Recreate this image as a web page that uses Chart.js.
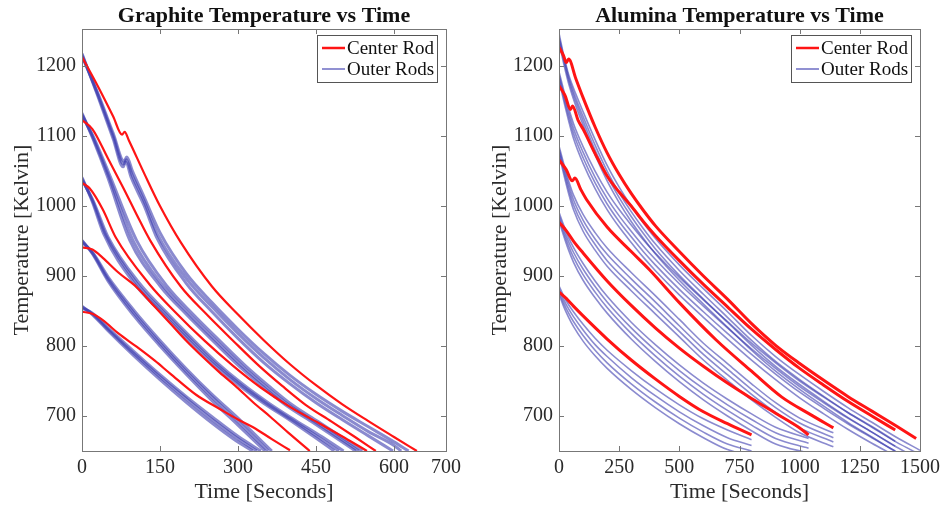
<!DOCTYPE html>
<html>
<head>
<meta charset="utf-8">
<script src="https://cdn.jsdelivr.net/npm/chart.js@4.4.0/dist/chart.umd.min.js"></script>
<style>
    body { margin: 0; background: #fff; width: 945px; height: 508px; overflow: hidden; position: relative; }
    canvas { position: absolute; top: 0; }
    #graphite { left: 0; }
    #alumina { left: 470px; }
</style>
</head>
<body>
<canvas id="graphite" width="470" height="508"></canvas>
<canvas id="alumina" width="475" height="508"></canvas>
<script>
// ---- Graphite: [time (s), temperature (K)] ----
const graphiteCenter1 = [[0,1213],[30,1172],[60,1128],[77,1102],[82,1106],[90,1094],[120,1046],[150,1000],[190,948],[250,885],[300,845],[350,808],[400,774],[450,744],[500,717],[550,693],[600,670],[644,650]];
const graphiteCenter2 = [[0,1123],[20,1110],[50,1068],[80,1025],[105,988],[131,951],[190,885],[240,845],[290,808],[340,772],[385,743],[430,716],[480,692],[525,670],[565,650]];
const graphiteCenter3 = [[0,1033],[15,1025],[40,995],[65,955],[130,888],[180,848],[235,808],[290,772],[345,740],[400,713],[455,690],[505,669],[548,650]];
const graphiteCenter4 = [[0,941],[20,938],[40,926],[70,905],[105,884],[140,856],[169,833],[200,808],[233,784],[265,762],[298,741],[330,719],[362,699],[400,674],[438,650]];
const graphiteCenter5 = [[0,849],[20,846],[40,837],[70,818],[105,799],[140,779],[169,761],[220,730],[265,710],[300,695],[329,684],[365,667],[400,651]];

const graphiteOuter1a = [[0,1218],[30,1158],[60,1096],[79,1056],[84,1063],[95,1040],[120,1000],[145,953],[200,890],[250,849],[300,811],[350,776],[400,746],[450,719],[500,695],[550,672],[598,650]];
const graphiteOuter1b = [[0,1216],[30,1160],[60,1100],[80,1060],[85,1066],[96,1045],[120,1006],[145,960],[200,897],[250,856],[300,818],[350,783],[400,752],[450,725],[500,701],[550,678],[600,658],[614,650]];
const graphiteOuter1c = [[0,1214],[30,1162],[60,1104],[81,1064],[86,1070],[97,1050],[120,1012],[150,962],[200,904],[250,862],[300,824],[350,789],[400,758],[450,731],[500,707],[550,685],[600,663],[628,650]];
const graphiteOuter2a = [[0,1133],[20,1098],[50,1040],[92,951],[151,885],[201,845],[251,808],[301,772],[346,743],[391,716],[441,692],[486,670],[526,650]];
const graphiteOuter2b = [[0,1131],[20,1100],[50,1045],[98,951],[157,885],[207,845],[257,808],[307,772],[352,743],[397,716],[447,692],[492,670],[532,650]];
const graphiteOuter2c = [[0,1129],[20,1102],[50,1050],[105,951],[164,885],[214,845],[264,808],[314,772],[359,743],[404,716],[454,692],[499,670],[539,650]];
const graphiteOuter3a = [[0,1041],[20,1006],[42,960],[100,890],[150,850],[200,812],[250,776],[300,745],[350,718],[400,694],[445,671],[485,650]];
const graphiteOuter3b = [[0,1039],[20,1008],[46,958],[105,890],[155,850],[205,812],[255,776],[305,745],[355,718],[405,694],[452,671],[494,650]];
const graphiteOuter3c = [[0,1037],[20,1010],[50,956],[110,890],[160,850],[210,812],[260,776],[310,745],[360,718],[410,694],[460,671],[503,650]];
const graphiteOuter4a = [[0,951],[20,932],[50,893],[100,843],[150,800],[200,760],[250,722],[300,687],[352,650]];
const graphiteOuter4b = [[0,950],[20,933],[50,896],[100,847],[150,804],[200,764],[250,727],[300,692],[358,650]];
const graphiteOuter4c = [[0,948],[20,934],[50,899],[100,851],[150,808],[200,768],[250,731],[300,697],[365,650]];
const graphiteOuter5a = [[0,857],[20,845],[50,822],[100,786],[150,752],[200,720],[250,690],[290,668],[328,650]];
const graphiteOuter5b = [[0,856],[20,846],[50,824],[100,789],[150,756],[200,725],[250,695],[295,670],[336,650]];
const graphiteOuter5c = [[0,854],[20,847],[50,826],[100,792],[150,759],[200,728],[250,699],[300,671],[344,650]];

const graphiteXTicks = [0, 150, 300, 450, 600, 700];

// ---- Alumina: centre rods as [time, temperature] ----
const aluminaCenter1 = [[0,1227],[20,1214],[30,1205],[40,1210],[70,1182],[100,1155],[150,1113],[200,1076],[250,1045],[300,1018],[350,994],[400,972],[500,935],[600,900],[700,867],[800,832],[900,801],[1000,775],[1100,751],[1200,728],[1300,707],[1400,686],[1484,668]];
const aluminaCenter2 = [[0,1172],[25,1158],[48,1138],[56,1143],[80,1122],[100,1110],[150,1075],[200,1043],[250,1020],[300,1000],[350,978],[400,958],[500,922],[600,888],[700,856],[800,824],[900,795],[1000,768],[1100,744],[1200,721],[1300,700],[1397,680]];
const aluminaCenter3 = [[0,1066],[30,1052],[55,1036],[66,1040],[90,1024],[115,1009],[200,970],[300,935],[376,909],[500,862],[652,809],[800,764],[926,727],[1040,703],[1140,683]];
const aluminaCenter4 = [[0,977],[30,965],[60,950],[100,933],[200,893],[300,858],[400,826],[500,797],[600,771],[700,747],[800,725],[900,704],[1000,683],[1037,673]];
const aluminaCenter5 = [[0,877],[30,868],[60,857],[100,843],[200,810],[300,780],[400,753],[500,728],[600,706],[700,689],[800,673]];

// ---- Alumina: outer rods, one time list per run ----
const aluminaOuterTime1 = [0,20,40,70,100,150,200,250,300,350,400,500,600,700,800,900,1000,1100,1200,1300,1400,1500];
const aluminaOuter1a = [1247,1215,1188,1160,1135,1095,1058,1027,1000,976,954,916,882,849,815,785,759,735,712,691,670,651];
const aluminaOuter1b = [1242,1212,1184,1154,1128,1087,1050,1019,992,968,946,908,874,841,808,778,752,728,705,684,663,645];
const aluminaOuter1c = [1238,1208,1180,1149,1122,1080,1043,1012,985,961,939,901,867,834,801,771,745,721,698,677,656,638];
const aluminaOuter1d = [1234,1203,1175,1143,1116,1073,1036,1005,978,954,932,894,860,827,794,764,738,714,691,670,649,632];

const aluminaOuterTime2 = [0,20,40,60,100,150,200,250,300,350,400,500,600,700,800,900,1000,1100,1200,1300,1397];
const aluminaOuter2a = [1192,1165,1140,1118,1085,1050,1020,995,973,952,933,898,866,835,804,776,750,727,705,685,664];
const aluminaOuter2b = [1188,1160,1134,1111,1077,1041,1011,986,964,943,924,889,857,826,796,768,742,719,697,677,657];
const aluminaOuter2c = [1184,1155,1128,1104,1069,1033,1003,978,956,935,916,881,849,818,788,760,734,711,689,669,650];
const aluminaOuter2d = [1180,1150,1122,1097,1061,1025,995,970,948,927,908,873,841,810,780,752,726,703,681,661,643];

const aluminaOuterTime3 = [0,20,40,60,100,150,200,300,400,500,600,700,800,900,1000,1140];
const aluminaOuter3a = [1086,1060,1036,1016,988,962,940,905,872,838,804,775,746,719,697,676];
const aluminaOuter3b = [1082,1055,1030,1009,980,953,931,896,863,829,796,767,738,712,690,669];
const aluminaOuter3c = [1078,1050,1024,1002,972,945,922,887,854,821,788,759,731,705,683,663];
const aluminaOuter3d = [1074,1045,1018,995,964,937,914,879,846,813,780,751,723,698,676,656];

const aluminaOuterTime4 = [0,20,40,60,100,150,200,300,400,500,600,700,800,900,1037];
const aluminaOuter4a = [991,972,955,941,918,893,871,834,802,773,747,724,703,684,668];
const aluminaOuter4b = [987,967,949,934,910,885,863,826,794,765,739,716,695,676,661];
const aluminaOuter4c = [983,962,943,927,902,877,855,818,786,757,731,708,687,668,654];
const aluminaOuter4d = [979,957,937,920,894,869,847,810,778,749,723,700,679,660,647];

const aluminaOuterTime5 = [0,20,40,60,100,150,200,300,400,500,600,700,800];
const aluminaOuter5a = [886,871,859,849,831,811,794,765,739,716,696,680,666];
const aluminaOuter5b = [882,866,853,842,823,802,785,755,729,706,686,669,658];
const aluminaOuter5c = [878,861,847,835,815,794,776,746,720,697,677,660,650];
const aluminaOuter5d = [874,856,841,828,807,786,768,738,712,689,669,652,643];

const aluminaXTicks = [0, 250, 500, 750, 1000, 1250, 1500];
const yTicks = [700, 800, 900, 1000, 1100, 1200];

const serif = '"Liberation Serif", "Times New Roman", serif';
const red = 'rgb(255,20,20)';
const blue = 'rgba(60,60,175,0.6)';

function fromPairs(list) {
    return list.map(p => ({x: p[0], y: p[1]}));
}

function fromGrid(times, temps) {
    return temps.map((v, i) => ({x: times[i], y: v}));
}

function centerSet(points, width) {
    return {data: points, borderColor: red, borderWidth: width, order: 0};
}

function outerSet(points, width) {
    return {data: points, borderColor: blue, borderWidth: width, order: 1};
}

// box, inward ticks on all four sides and the legend, the MATLAB way
const matlabBox = {
    id: 'matlabBox',
    afterDatasetsDraw(chart) {
        const ctx = chart.ctx;
        const a = chart.chartArea;
        const xs = chart.scales.x;
        const ys = chart.scales.y;
        ctx.save();
        ctx.strokeStyle = '#777';
        ctx.lineWidth = 1;
        ctx.beginPath();
        xs.ticks.forEach(t => {
            let px = Math.round(xs.getPixelForValue(t.value)) + 0.5;
            ctx.moveTo(px, a.bottom); ctx.lineTo(px, a.bottom - 5);
            ctx.moveTo(px, a.top); ctx.lineTo(px, a.top + 5);
        });
        ys.ticks.forEach(t => {
            let py = Math.round(ys.getPixelForValue(t.value)) + 0.5;
            ctx.moveTo(a.left, py); ctx.lineTo(a.left + 5, py);
            ctx.moveTo(a.right, py); ctx.lineTo(a.right - 5, py);
        });
        ctx.stroke();
        ctx.strokeRect(Math.round(a.left) + 0.5, Math.round(a.top) + 0.5, Math.round(a.right - a.left), Math.round(a.bottom - a.top));

        // legend
        const bw = 120, bh = 47;
        const bx = Math.round(a.right) - 9 - bw;
        const by = Math.round(a.top) + 6;
        ctx.fillStyle = '#fff';
        ctx.fillRect(bx, by, bw, bh);
        ctx.strokeStyle = '#555';
        ctx.strokeRect(bx + 0.5, by + 0.5, bw, bh);
        const rows = [['Center Rod', red, 2.5], ['Outer Rods', 'rgba(60,60,175,0.75)', 1.5]];
        ctx.font = '19px ' + serif;
        ctx.textBaseline = 'middle';
        rows.forEach((r, i) => {
            let ry = by + 13 + i * 21;
            ctx.strokeStyle = r[1];
            ctx.lineWidth = r[2];
            ctx.beginPath();
            ctx.moveTo(bx + 5, ry); ctx.lineTo(bx + 28, ry);
            ctx.stroke();
            ctx.fillStyle = '#111';
            ctx.fillText(r[0], bx + 30, ry + 1);
        });
        ctx.restore();
    }
};

function makeChart(id, title, datasets, xMax, xTicks, yWidth, yTitlePad, rightPad) {
    return new Chart(document.getElementById(id), {
        type: 'scatter',
        data: {datasets: datasets},
        plugins: [matlabBox],
        options: {
            responsive: false,
            animation: false,
            devicePixelRatio: 1,
            layout: {padding: {left: 0, right: rightPad, top: 0, bottom: 0}},
            datasets: {
                scatter: {showLine: true, pointRadius: 0, fill: false, cubicInterpolationMode: 'monotone'}
            },
            plugins: {
                legend: {display: false},
                tooltip: {enabled: false},
                title: {
                    display: true,
                    text: title,
                    fullSize: false,
                    color: '#111',
                    font: {family: serif, size: 22, weight: 'bold', lineHeight: 1.1},
                    padding: {top: 4, bottom: 0.8}
                }
            },
            scales: {
                x: {
                    type: 'linear',
                    min: 0,
                    max: xMax,
                    afterBuildTicks: s => { s.ticks = xTicks.map(v => ({value: v})); },
                    afterFit: s => { s.height = 57; },
                    grid: {display: false, drawTicks: false},
                    border: {display: false},
                    ticks: {
                        padding: 5,
                        color: '#2a2a2a',
                        font: {family: serif, size: 20},
                        maxRotation: 0,
                        callback: v => String(v)
                    },
                    title: {
                        display: true,
                        text: 'Time [Seconds]',
                        color: '#2a2a2a',
                        font: {family: serif, size: 22},
                        padding: {top: 0, bottom: 3}
                    }
                },
                y: {
                    type: 'linear',
                    min: 650,
                    max: 1253,
                    afterBuildTicks: s => { s.ticks = yTicks.map(v => ({value: v})); },
                    afterFit: s => { s.width = yWidth; },
                    grid: {display: false, drawTicks: false},
                    border: {display: false},
                    ticks: {
                        padding: 6,
                        color: '#2a2a2a',
                        font: {family: serif, size: 20},
                        callback: v => String(v)
                    },
                    title: {
                        display: true,
                        text: 'Temperature [Kelvin]',
                        color: '#2a2a2a',
                        font: {family: serif, size: 22},
                        padding: {top: yTitlePad, bottom: 0}
                    }
                }
            }
        }
    });
}

const graphiteSets = [
    outerSet(fromPairs(graphiteOuter1a), 3), outerSet(fromPairs(graphiteOuter1b), 3), outerSet(fromPairs(graphiteOuter1c), 3),
    outerSet(fromPairs(graphiteOuter2a), 3), outerSet(fromPairs(graphiteOuter2b), 3), outerSet(fromPairs(graphiteOuter2c), 3),
    outerSet(fromPairs(graphiteOuter3a), 3), outerSet(fromPairs(graphiteOuter3b), 3), outerSet(fromPairs(graphiteOuter3c), 3),
    outerSet(fromPairs(graphiteOuter4a), 3), outerSet(fromPairs(graphiteOuter4b), 3), outerSet(fromPairs(graphiteOuter4c), 3),
    outerSet(fromPairs(graphiteOuter5a), 3), outerSet(fromPairs(graphiteOuter5b), 3), outerSet(fromPairs(graphiteOuter5c), 3),
    centerSet(fromPairs(graphiteCenter1), 2.2), centerSet(fromPairs(graphiteCenter2), 2.2), centerSet(fromPairs(graphiteCenter3), 2.2),
    centerSet(fromPairs(graphiteCenter4), 2.2), centerSet(fromPairs(graphiteCenter5), 2.2)
];

const aluminaSets = [
    outerSet(fromGrid(aluminaOuterTime1, aluminaOuter1a), 1.6), outerSet(fromGrid(aluminaOuterTime1, aluminaOuter1b), 1.6),
    outerSet(fromGrid(aluminaOuterTime1, aluminaOuter1c), 1.6), outerSet(fromGrid(aluminaOuterTime1, aluminaOuter1d), 1.6),
    outerSet(fromGrid(aluminaOuterTime2, aluminaOuter2a), 1.6), outerSet(fromGrid(aluminaOuterTime2, aluminaOuter2b), 1.6),
    outerSet(fromGrid(aluminaOuterTime2, aluminaOuter2c), 1.6), outerSet(fromGrid(aluminaOuterTime2, aluminaOuter2d), 1.6),
    outerSet(fromGrid(aluminaOuterTime3, aluminaOuter3a), 1.6), outerSet(fromGrid(aluminaOuterTime3, aluminaOuter3b), 1.6),
    outerSet(fromGrid(aluminaOuterTime3, aluminaOuter3c), 1.6), outerSet(fromGrid(aluminaOuterTime3, aluminaOuter3d), 1.6),
    outerSet(fromGrid(aluminaOuterTime4, aluminaOuter4a), 1.6), outerSet(fromGrid(aluminaOuterTime4, aluminaOuter4b), 1.6),
    outerSet(fromGrid(aluminaOuterTime4, aluminaOuter4c), 1.6), outerSet(fromGrid(aluminaOuterTime4, aluminaOuter4d), 1.6),
    outerSet(fromGrid(aluminaOuterTime5, aluminaOuter5a), 1.6), outerSet(fromGrid(aluminaOuterTime5, aluminaOuter5b), 1.6),
    outerSet(fromGrid(aluminaOuterTime5, aluminaOuter5c), 1.6), outerSet(fromGrid(aluminaOuterTime5, aluminaOuter5d), 1.6),
    centerSet(fromPairs(aluminaCenter1), 3), centerSet(fromPairs(aluminaCenter2), 3), centerSet(fromPairs(aluminaCenter3), 3),
    centerSet(fromPairs(aluminaCenter4), 3), centerSet(fromPairs(aluminaCenter5), 3)
];

makeChart('graphite', 'Graphite Temperature vs Time', graphiteSets, 700, graphiteXTicks, 82, 9, 24);
makeChart('alumina', 'Alumina Temperature vs Time', aluminaSets, 1500, aluminaXTicks, 89, 17, 23);
</script>
</body>
</html>
